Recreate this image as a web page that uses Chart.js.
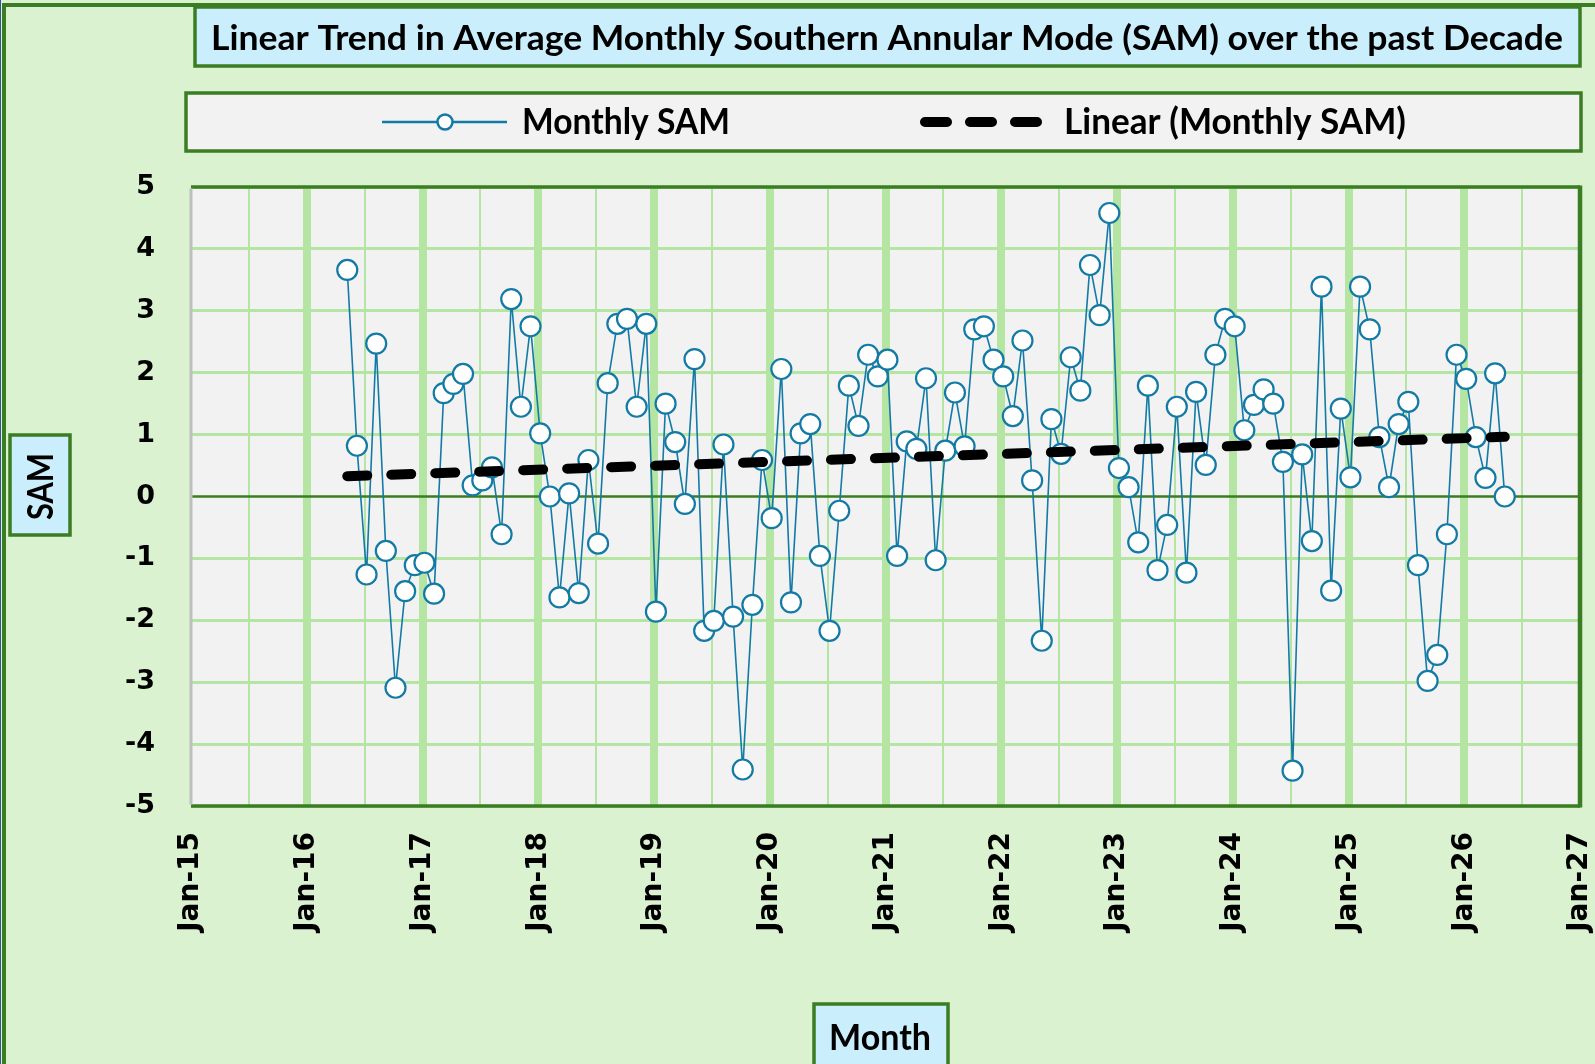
<!DOCTYPE html>
<html>
<head>
<meta charset="utf-8">
<title>Linear Trend in Average Monthly Southern Annular Mode (SAM)</title>
<script src="https://cdn.jsdelivr.net/npm/chart.js@4.4.1/dist/chart.umd.min.js"></script>
<style>
  html, body { margin: 0; padding: 0; background: #daf2d0; }
  #wrap { width: 1595px; height: 1064px; position: relative; overflow: hidden; }
  canvas { display: block; }
</style>
</head>
<body>
<div id="wrap"><canvas id="chart" width="1595" height="1064"></canvas></div>
<script>
// ---- Data -----------------------------------------------------------------
const months = [
  'May-16','Jun-16','Jul-16','Aug-16','Sep-16','Oct-16','Nov-16','Dec-16',
  'Jan-17','Feb-17','Mar-17','Apr-17','May-17','Jun-17','Jul-17','Aug-17','Sep-17','Oct-17','Nov-17','Dec-17',
  'Jan-18','Feb-18','Mar-18','Apr-18','May-18','Jun-18','Jul-18','Aug-18','Sep-18','Oct-18','Nov-18','Dec-18',
  'Jan-19','Feb-19','Mar-19','Apr-19','May-19','Jun-19','Jul-19','Aug-19','Sep-19','Oct-19','Nov-19','Dec-19',
  'Jan-20','Feb-20','Mar-20','Apr-20','May-20','Jun-20','Jul-20','Aug-20','Sep-20','Oct-20','Nov-20','Dec-20',
  'Jan-21','Feb-21','Mar-21','Apr-21','May-21','Jun-21','Jul-21','Aug-21','Sep-21','Oct-21','Nov-21','Dec-21',
  'Jan-22','Feb-22','Mar-22','Apr-22','May-22','Jun-22','Jul-22','Aug-22','Sep-22','Oct-22','Nov-22','Dec-22',
  'Jan-23','Feb-23','Mar-23','Apr-23','May-23','Jun-23','Jul-23','Aug-23','Sep-23','Oct-23','Nov-23','Dec-23',
  'Jan-24','Feb-24','Mar-24','Apr-24','May-24','Jun-24','Jul-24','Aug-24','Sep-24','Oct-24','Nov-24','Dec-24',
  'Jan-25','Feb-25','Mar-25','Apr-25','May-25','Jun-25','Jul-25','Aug-25','Sep-25','Oct-25','Nov-25','Dec-25',
  'Jan-26','Feb-26','Mar-26','Apr-26','May-26'
];

const samValues = [
  3.66, 0.82, -1.26, 2.47, -0.88, -3.09, -1.53, -1.11,
  -1.07, -1.57, 1.67, 1.82, 1.98, 0.18, 0.26, 0.47, -0.61, 3.19, 1.45, 2.75,
  1.02, 0.00, -1.63, 0.05, -1.56, 0.59, -0.76, 1.83, 2.79, 2.87, 1.45, 2.79,
  -1.86, 1.50, 0.88, -0.12, 2.22, -2.17, -2.01, 0.84, -1.94, -4.41, -1.75, 0.59,
  -0.35, 2.06, -1.71, 1.02, 1.17, -0.96, -2.17, -0.23, 1.79, 1.14, 2.29, 1.94,
  2.21, -0.96, 0.89, 0.77, 1.91, -1.03, 0.74, 1.68, 0.81, 2.70, 2.75, 2.21,
  1.94, 1.30, 2.52, 0.26, -2.33, 1.25, 0.69, 2.25, 1.71, 3.74, 2.93, 4.58,
  0.46, 0.15, -0.74, 1.79, -1.19, -0.46, 1.45, -1.23, 1.69, 0.51, 2.29, 2.87,
  2.75, 1.07, 1.48, 1.73, 1.50, 0.56, -4.43, 0.68, -0.72, 3.39, -1.52, 1.42,
  0.31, 3.39, 2.70, 0.96, 0.15, 1.17, 1.53, -1.11, -2.98, -2.56, -0.61, 2.29,
  1.90, 0.96, 0.30, 1.99, 0.00
];

const yearTicks = ['Jan-15','Jan-16','Jan-17','Jan-18','Jan-19','Jan-20','Jan-21',
                   'Jan-22','Jan-23','Jan-24','Jan-25','Jan-26','Jan-27'];
const yTickValues = [-5, -4, -3, -2, -1, 0, 1, 2, 3, 4, 5];

const seriesName = 'Monthly SAM';
const trendName = 'Linear (Monthly SAM)';
const chartTitle = 'Linear Trend in Average Monthly Southern Annular Mode (SAM) over the past Decade';
const xTitle = 'Month';
const yTitle = 'SAM';

// ---- Helpers ----------------------------------------------------------------
const MONTH_NAMES = ['Jan','Feb','Mar','Apr','May','Jun','Jul','Aug','Sep','Oct','Nov','Dec'];
const BASE_YEAR = 2015;
const DAY_OFFSET = 0.2; // monthly values sit a few days into their month

// months since Jan of the base year
function monthPos(label) {
  const [m, yy] = label.split('-');
  return (2000 + Number(yy) - BASE_YEAR) * 12 + MONTH_NAMES.indexOf(m) + DAY_OFFSET;
}

const points = months.map((m, i) => ({ x: monthPos(m), y: samValues[i] }));

// least-squares trend line through the monthly values
function linearFit(pts) {
  const n = pts.length;
  let sx = 0, sy = 0, sxx = 0, sxy = 0;
  pts.forEach(p => { sx += p.x; sy += p.y; sxx += p.x * p.x; sxy += p.x * p.y; });
  const slope = (n * sxy - sx * sy) / (n * sxx - sx * sx);
  const icpt = (sy - slope * sx) / n;
  return x => icpt + slope * x;
}
const trend = linearFit(points);
const trendPoints = [points[0].x, points[points.length - 1].x].map(x => ({ x, y: trend(x) }));

// ---- Colours ----------------------------------------------------------------
const C = {
  page: '#daf2d0',
  plot: '#f2f2f2',
  grid: '#b4e5a2',
  dark: '#3a7d22',
  boxBlue: '#caeefb',
  series: '#137aa6',
  axisGray: '#bfbfbf'
};

const XMIN = 0, XMAX = (yearTicks.length - 1) * 12;

// ---- Text drawn to a given cap height and width ---------------------------
const BOX_FONT = 'Lato, "Liberation Sans", sans-serif';
function drawFitted(ctx, text, cx, baseline, capH, width, rotate) {
  ctx.save();
  ctx.font = `bold 100px ${BOX_FONT}`;
  const cap = ctx.measureText('H').actualBoundingBoxAscent / 100;
  const size = capH / cap;
  ctx.font = `bold ${size}px ${BOX_FONT}`;
  const w = ctx.measureText(text).width;
  ctx.translate(cx, baseline);
  if (rotate) ctx.rotate(-Math.PI / 2);
  ctx.scale(width / w, 1);
  ctx.fillStyle = '#000';
  ctx.textAlign = 'center';
  ctx.textBaseline = 'alphabetic';
  ctx.fillText(text, 0, 0);
  ctx.restore();
}

function framedBox(ctx, x, y, w, h, fill, lw) {
  ctx.save();
  ctx.fillStyle = fill;
  ctx.fillRect(x, y, w, h);
  ctx.strokeStyle = C.dark;
  ctx.lineWidth = lw;
  ctx.strokeRect(x, y, w, h);
  ctx.restore();
}

// ---- Plugin: background, frames, legend, titles ------------------------------
const decorations = {
  id: 'decorations',
  beforeDraw(chart) {
    const { ctx, chartArea: a } = chart;
    ctx.save();
    ctx.fillStyle = C.page;
    ctx.fillRect(0, 0, chart.width, chart.height);
    // outer chart frame
    ctx.strokeStyle = C.dark;
    ctx.lineWidth = 4;
    ctx.beginPath();
    ctx.moveTo(4, chart.height + 5);
    ctx.lineTo(4, 5);
    ctx.lineTo(chart.width + 5, 5);
    ctx.stroke();
    ctx.strokeStyle = '#2f5597';
    ctx.lineWidth = 1;
    ctx.beginPath();
    ctx.moveTo(0.5, 0);
    ctx.lineTo(0.5, chart.height);
    ctx.stroke();
    // plot area
    ctx.fillStyle = C.plot;
    ctx.fillRect(a.left, a.top, a.right - a.left, a.bottom - a.top);
    ctx.restore();
  },
  beforeDatasetsDraw(chart) {
    const { ctx, chartArea: a, scales: { y } } = chart;
    ctx.save();
    // zero line
    const y0 = y.getPixelForValue(0);
    ctx.strokeStyle = C.dark;
    ctx.lineWidth = 2.5;
    ctx.beginPath();
    ctx.moveTo(a.left, y0);
    ctx.lineTo(a.right, y0);
    ctx.stroke();
    // plot borders
    ctx.lineWidth = 3.5;
    ctx.beginPath();
    ctx.moveTo(a.left, a.top);
    ctx.lineTo(a.right, a.top);
    ctx.moveTo(a.left, a.bottom);
    ctx.lineTo(a.right, a.bottom);
    ctx.stroke();
    ctx.lineWidth = 4.5;
    ctx.beginPath();
    ctx.moveTo(a.right, a.top - 1.5);
    ctx.lineTo(a.right, a.bottom + 1.5);
    ctx.stroke();
    ctx.strokeStyle = C.axisGray;
    ctx.lineWidth = 3;
    ctx.beginPath();
    ctx.moveTo(a.left, a.top + 1.5);
    ctx.lineTo(a.left, a.bottom - 1.5);
    ctx.stroke();
    ctx.restore();
  },
  afterDraw(chart) {
    const ctx = chart.ctx;
    // title
    framedBox(ctx, 195, 7, 1385, 59, C.boxBlue, 3.5);
    drawFitted(ctx, chartTitle, 887, 50, 25, 1352);

    // legend
    framedBox(ctx, 186, 93, 1395, 58, C.plot, 3.5);
    ctx.save();
    ctx.strokeStyle = C.series;
    ctx.lineWidth = 2.5;
    ctx.beginPath();
    ctx.moveTo(382, 122);
    ctx.lineTo(507, 122);
    ctx.stroke();
    ctx.fillStyle = '#fff';
    ctx.lineWidth = 2.5;
    ctx.beginPath();
    ctx.arc(445, 122, 7.5, 0, Math.PI * 2);
    ctx.fill();
    ctx.stroke();
    ctx.strokeStyle = '#000';
    ctx.lineWidth = 10;
    ctx.lineCap = 'round';
    ctx.setLineDash([22, 23]);
    ctx.beginPath();
    ctx.moveTo(925, 122);
    ctx.lineTo(1038, 122);
    ctx.stroke();
    ctx.restore();
    drawFitted(ctx, seriesName, 626, 134, 26, 208);
    drawFitted(ctx, trendName, 1235, 134, 26, 342);

    // axis titles
    framedBox(ctx, 10, 435, 60, 100, C.boxBlue, 3.5);
    drawFitted(ctx, yTitle, 53, 486.5, 26, 67, true);
    framedBox(ctx, 814, 1004, 134, 80, C.boxBlue, 3.5);
    drawFitted(ctx, xTitle, 880, 1050, 26, 102);
  }
};

// ---- Chart --------------------------------------------------------------------
const tickFont = { family: '"DejaVu Sans", Verdana, sans-serif', weight: 'bold' };

new Chart(document.getElementById('chart'), {
  type: 'line',
  data: {
    datasets: [
      {
        label: seriesName,
        data: points,
        borderColor: C.series,
        borderWidth: 1.6,
        pointRadius: 10,
        pointBorderWidth: 2.2,
        pointBackgroundColor: '#ffffff',
        pointBorderColor: C.series,
        tension: 0,
        order: 2
      },
      {
        label: trendName,
        data: trendPoints,
        borderColor: '#000000',
        borderWidth: 10,
        borderDash: [20, 24],
        borderCapStyle: 'round',
        pointRadius: 0,
        tension: 0,
        order: 1
      }
    ]
  },
  options: {
    responsive: false,
    animation: false,
    devicePixelRatio: 1,
    events: [],
    layout: { autoPadding: false, padding: { left: 0, right: 15, top: 187, bottom: 0 } },
    plugins: {
      legend: { display: false },
      title: { display: false },
      tooltip: { enabled: false }
    },
    scales: {
      x: {
        type: 'linear',
        min: XMIN,
        max: XMAX,
        afterBuildTicks(scale) {
          const t = [];
          for (let v = XMIN; v <= XMAX; v += 6) t.push({ value: v });
          scale.ticks = t;
        },
        afterFit(scale) {
          scale.height = 258;
          scale.paddingLeft = 0;
          scale.paddingRight = 0;
        },
        border: { display: false },
        grid: {
          drawTicks: false,
          color: ctx => (ctx.tick.value === XMIN || ctx.tick.value === XMAX) ? 'rgba(0,0,0,0)' : C.grid,
          lineWidth: ctx => ctx.tick.value % 12 === 0 ? 8 : 2
        },
        ticks: {
          autoSkip: false,
          minRotation: 90,
          maxRotation: 90,
          padding: 26,
          color: '#000',
          font: Object.assign({ size: 28 }, tickFont),
          callback: v => v % 12 === 0 ? yearTicks[v / 12] : ''
        }
      },
      y: {
        type: 'linear',
        min: yTickValues[0],
        max: yTickValues[yTickValues.length - 1],
        afterBuildTicks(scale) {
          const t = [];
          for (let v = scale.min; v <= scale.max + 1e-9; v += 0.5) t.push({ value: v });
          scale.ticks = t;
        },
        afterFit(scale) {
          scale.width = 191;
          scale.paddingTop = 0;
          scale.paddingBottom = 0;
        },
        border: { display: false },
        grid: {
          drawTicks: false,
          color: ctx => (ctx.tick.value === 0) ? 'rgba(0,0,0,0)' : C.grid,
          lineWidth: ctx => Number.isInteger(ctx.tick.value) ? 3 : 2
        },
        ticks: {
          padding: 36,
          color: '#000',
          font: Object.assign({ size: 27 }, tickFont),
          callback: v => yTickValues.includes(v) ? String(v) : ''
        }
      }
    }
  },
  plugins: [decorations]
});
</script>
</body>
</html>
